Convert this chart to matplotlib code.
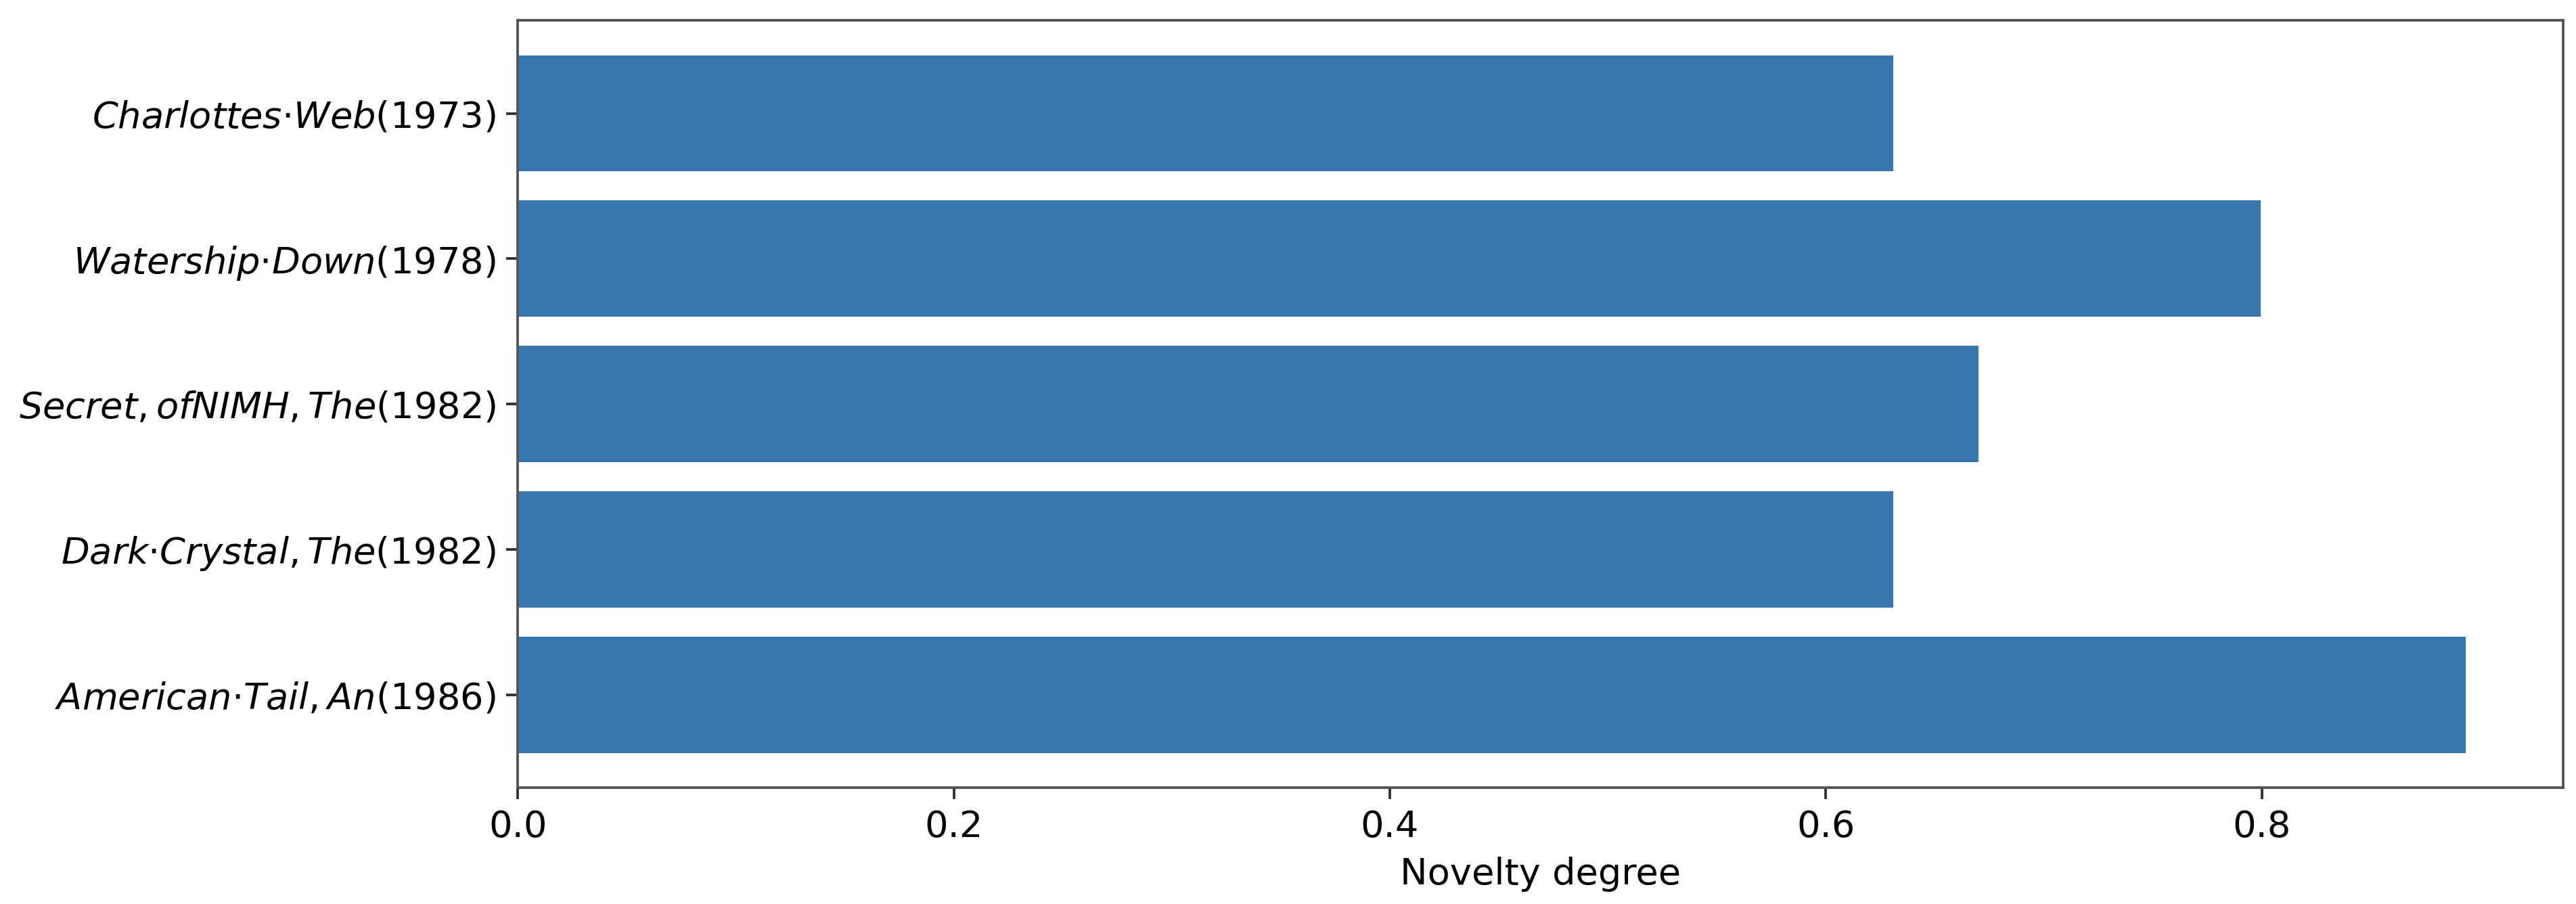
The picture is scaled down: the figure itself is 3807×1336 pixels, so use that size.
import numpy as np
import matplotlib
matplotlib.use("Agg")
import matplotlib.pyplot as plt

# data, bottom to top
films = [r"$American{\cdot}Tail, An$(1986)",
         r"$Dark{\cdot}Crystal, The$(1982)",
         r"$Secret, of NIMH, The$(1982)",
         r"$Watership{\cdot}Down$(1978)",
         r"$Charlottes{\cdot}Web$(1973)"]
novelty = [0.8935, 0.631, 0.670, 0.7995, 0.631]
xticks = [0.0, 0.2, 0.4, 0.6, 0.8]

DPI = 310
plt.rcParams["font.size"] = 12.6
plt.rcParams["axes.linewidth"] = 0.9
plt.rcParams["axes.edgecolor"] = "#555555"

fig, ax = plt.subplots(figsize=(3807 / DPI, 1336 / DPI), dpi=DPI)
fig.subplots_adjust(left=0.201, right=0.995, top=0.9775, bottom=0.1287)

pos = np.arange(len(films))
ax.barh(pos, novelty, height=0.8, color="#3976af")

ax.set_yticks(pos)
ax.set_yticklabels(films)
ax.set_xticks(xticks)
ax.tick_params(axis="both", length=4, width=0.9, color="#333333", labelsize=12.6)
ax.set_xlabel("Novelty degree", fontsize=12.6)

fig.savefig("out.png", dpi=DPI)
